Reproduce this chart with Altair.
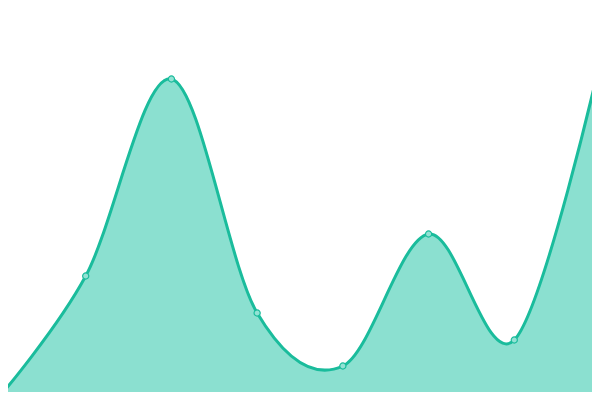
import altair as alt
import pandas as pd

idx = [0, 1, 2, 3, 4, 5, 6, 7]
values = [1, 31, 80.25, 21.75, 8.5, 41.5, 15, 84.5]

df = pd.DataFrame({"i": idx, "v": values})

LINE = "#1abc9c"
FILL = "#8be0d0"
POINT_FILL = "#93e2d4"
W, H = 584, 384

x = alt.X("i:Q", scale=alt.Scale(domain=[0.09333, 6.90667], nice=False, zero=False), axis=None)
y = alt.Y("v:Q", scale=alt.Scale(domain=[2, 98], nice=False, zero=False), axis=None)

base = alt.Chart(df)
area = base.mark_area(interpolate="cardinal", color=FILL, opacity=1, clip=True).encode(
    x=x, y=y, y2=alt.value(H))
line = base.mark_line(interpolate="cardinal", color=LINE, strokeWidth=3, clip=True).encode(x=x, y=y)
pts = base.mark_point(shape="circle", filled=True, fill=POINT_FILL, stroke=LINE, strokeWidth=1.2,
                      size=38, opacity=1, clip=True).encode(x=x, y=y)

chart = (area + line + pts).properties(
    width=W, height=H, padding=0,
    autosize=alt.AutoSizeParams(type="none")
).configure_view(stroke=None)

chart.save("out.html", embed_options={"renderer": "svg", "actions": False})
